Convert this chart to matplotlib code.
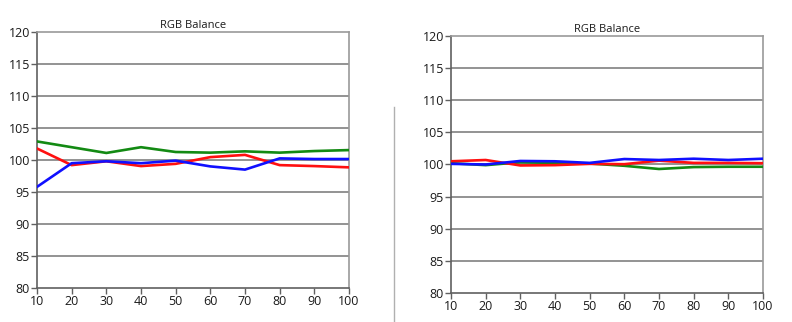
import matplotlib
matplotlib.use("Agg")
import matplotlib.pyplot as plt
from matplotlib.lines import Line2D

levels = [10, 20, 30, 40, 50, 60, 70, 80, 90, 100]

# left panel
red_a = [101.8, 99.2, 99.8, 99.05, 99.4, 100.45, 100.8, 99.2, 99.05, 98.85]
green_a = [102.9, 102.0, 101.1, 102.0, 101.25, 101.15, 101.35, 101.15, 101.4, 101.55]
blue_a = [95.8, 99.5, 99.8, 99.5, 99.9, 99.0, 98.5, 100.25, 100.15, 100.15]

# right panel
red_b = [100.5, 100.7, 99.85, 99.9, 100.1, 100.05, 100.6, 100.25, 100.25, 100.2]
green_b = [100.2, 99.9, 100.35, 100.25, 100.15, 99.8, 99.3, 99.6, 99.65, 99.65]
blue_b = [100.1, 100.0, 100.55, 100.5, 100.25, 100.85, 100.7, 100.9, 100.7, 100.9]

yticks = [80, 85, 90, 95, 100, 105, 110, 115, 120]

plt.rcParams['font.family'] = ['Open Sans', 'DejaVu Sans']

fig = plt.figure(figsize=(7.92, 3.22), dpi=100)
ax1 = fig.add_axes([37/792, 1-288/322, 312/792, 256/322])
ax2 = fig.add_axes([451/792, 1-293/322, 312/792, 257/322])


def draw(ax, r, g, b):
    for y in yticks[1:-1]:
        ax.axhline(y, color='#808080', lw=1.2, zorder=1)
    ax.plot(levels, g, color='#138a13', lw=1.9, zorder=3)
    ax.plot(levels, r, color='#ff1010', lw=1.9, zorder=3)
    ax.plot(levels, b, color='#1010ff', lw=1.9, zorder=4)
    ax.set_xlim(10, 100)
    ax.set_ylim(80, 120)
    ax.set_xticks(levels)
    ax.set_yticks(yticks)
    ax.tick_params(labelsize=9, length=4, width=1, color='#606060',
                   labelcolor='#1a1a1a', pad=1)
    for s in ax.spines.values():
        s.set_color('#9a9a9a')
        s.set_linewidth(1.2)
    ax.spines['left'].set_color('#606060')
    ax.spines['bottom'].set_color('#606060')
    ax.set_title('RGB Balance', fontsize=8, color='#1a1a1a', pad=3)


draw(ax1, red_a, green_a, blue_a)
draw(ax2, red_b, green_b, blue_b)

# thin divider between the two screenshots
fig.add_artist(Line2D([394/792, 394/792], [0, 1-107/322],
                      color='#b0b0b0', lw=1.0))

fig.savefig('out.png', dpi=100)
